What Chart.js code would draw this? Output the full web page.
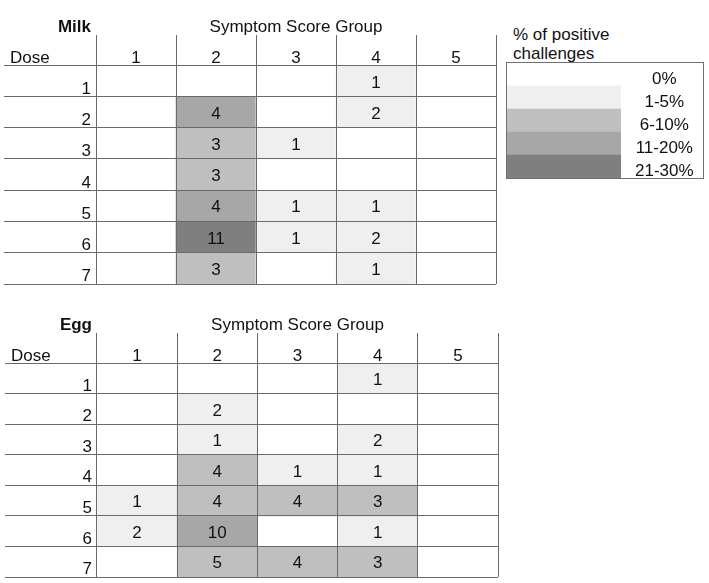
<!DOCTYPE html>
<html>
<head>
<meta charset="utf-8">
<script src="https://cdn.jsdelivr.net/npm/chart.js@4.4.1/dist/chart.umd.min.js"></script>
<style>
  body { margin: 0; background: #fff; width: 709px; height: 583px; position: relative; overflow: hidden; font-family: "Liberation Sans", Arial, sans-serif; }
  .box { position: absolute; }
  #legendTitle { position: absolute; left: 513px; top: 25px; font-size: 17px; line-height: 19px; color: #111; }
  #legendBox { position: absolute; left: 506px; top: 62px; width: 198px; height: 117px; border: 1px solid #707070; box-sizing: border-box; }
</style>
</head>
<body>
<div class="box" style="left:0;top:0;width:500px;height:290px"><canvas id="milk" width="500" height="290"></canvas></div>
<div class="box" style="left:0;top:299px;width:500px;height:284px"><canvas id="egg" width="500" height="284"></canvas></div>
<div id="legendTitle">% of positive<br>challenges</div>
<div id="legendBox"><canvas id="legend" width="196" height="115"></canvas></div>
<script>
const symptomGroups = ["1", "2", "3", "4", "5"]
const doses = ["1", "2", "3", "4", "5", "6", "7"]
const scoreTitle = "Symptom Score Group"
const doseTitle = "Dose"

// counts per dose (rows) and symptom score group (columns)
const milkCounts = [
  [null, null, null, 1, null],
  [null, 4, null, 2, null],
  [null, 3, 1, null, null],
  [null, 3, null, null, null],
  [null, 4, 1, 1, null],
  [null, 11, 1, 2, null],
  [null, 3, null, 1, null]
]
// shading class (index into legendLabels)
const milkLevels = [
  [0, 0, 0, 1, 0],
  [0, 3, 0, 1, 0],
  [0, 2, 1, 0, 0],
  [0, 2, 0, 0, 0],
  [0, 3, 1, 1, 0],
  [0, 4, 1, 1, 0],
  [0, 2, 0, 1, 0]
]

const eggCounts = [
  [null, null, null, 1, null],
  [null, 2, null, null, null],
  [null, 1, null, 2, null],
  [null, 4, 1, 1, null],
  [1, 4, 4, 3, null],
  [2, 10, null, 1, null],
  [null, 5, 4, 3, null]
]
const eggLevels = [
  [0, 0, 0, 1, 0],
  [0, 1, 0, 0, 0],
  [0, 1, 0, 1, 0],
  [0, 2, 1, 1, 0],
  [1, 2, 2, 2, 0],
  [1, 3, 0, 1, 0],
  [0, 2, 2, 2, 0]
]

const legendLabels = ["0%", "1-5%", "6-10%", "11-20%", "21-30%"]
const levelColors = ["#ffffff", "#efefef", "#bfbfbf", "#a7a7a7", "#7f7f7f"]

const fontFamily = '"Liberation Sans", Arial, sans-serif'
const textColor = "#111111"
const lineColor = "#6a6a6a"

Chart.defaults.font.family = fontFamily
Chart.defaults.font.size = 17
Chart.defaults.color = textColor

function makeTable(canvasId, name, counts, levels, padding, rowLabelOffset) {

  const tablePlugin = {
    id: "tablePlugin",
    afterDatasetsDraw(chart) {
      const ctx = chart.ctx
      ctx.save()
      ctx.fillStyle = textColor
      ctx.font = "17px " + fontFamily
      ctx.textAlign = "center"
      ctx.textBaseline = "middle"
      counts.forEach((row, i) => {
        const meta = chart.getDatasetMeta(i)
        row.forEach((v, j) => {
          if (v == null) return
          const bar = meta.data[j]
          ctx.fillText(String(v), bar.x, (bar.y + bar.base) / 2 + 2)
        })
      })
      ctx.restore()
    },
    afterDraw(chart) {
      const { ctx, chartArea: a } = chart
      ctx.save()
      ctx.fillStyle = textColor
      ctx.textBaseline = "middle"
      ctx.font = "bold 17px " + fontFamily
      ctx.textAlign = "right"
      ctx.fillText(name, a.left - 5, a.top - 38)
      ctx.font = "17px " + fontFamily
      ctx.textAlign = "center"
      ctx.fillText(scoreTitle, (a.left + a.right) / 2, a.top - 38)
      ctx.textAlign = "left"
      ctx.fillText(doseTitle, a.left - 86, a.top - 7)
      ctx.restore()
    }
  }

  return new Chart(canvasId, {
    type: "bar",
    data: {
      labels: symptomGroups,
      datasets: counts.map((row, i) => ({
        label: doses[i],
        data: row.map(() => 1),
        backgroundColor: levels[i].map(l => levelColors[l]),
        borderWidth: 0,
        barPercentage: 1,
        categoryPercentage: 1
      }))
    },
    options: {
      responsive: false,
      animation: false,
      layout: { padding: padding },
      plugins: {
        legend: { display: false },
        tooltip: { enabled: false }
      },
      scales: {
        x: {
          type: "category",
          position: "top",
          stacked: true,
          offset: true,
          grid: { offset: true, color: lineColor, tickLength: 30, z: 1 },
          border: { display: false },
          ticks: { padding: -33.5, autoSkip: false, maxRotation: 0, color: textColor },
          afterFit: s => { s.height = 30 }
        },
        y: {
          type: "linear",
          stacked: true,
          reverse: true,
          min: 0,
          max: doses.length,
          grid: { color: lineColor, tickLength: 92, z: 1 },
          border: { display: false },
          ticks: {
            stepSize: 1,
            autoSkip: false,
            padding: -87,
            labelOffset: rowLabelOffset,
            color: textColor,
            callback: v => doses[v] ?? ""
          },
          afterFit: s => { s.width = 92 }
        }
      }
    },
    plugins: [tablePlugin]
  })
}

makeTable("milk", "Milk", milkCounts, milkLevels, { left: 4, top: 35, right: 4, bottom: 6 }, 24)
makeTable("egg", "Egg", eggCounts, eggLevels, { left: 5, top: 34, right: 2, bottom: 6 }, 23)

new Chart("legend", {
  type: "bar",
  data: {
    labels: legendLabels,
    datasets: [{
      data: legendLabels.map(() => 1),
      backgroundColor: levelColors,
      borderWidth: 0,
      barPercentage: 1,
      categoryPercentage: 1
    }]
  },
  options: {
    indexAxis: "y",
    responsive: false,
    animation: false,
    layout: { padding: 0 },
    plugins: {
      legend: { display: false },
      tooltip: { enabled: false }
    },
    scales: {
      x: { display: false, min: 0, max: 1 },
      y: {
        position: "right",
        grid: { display: false },
        border: { display: false },
        ticks: { crossAlign: "center", padding: 6, labelOffset: 5, autoSkip: false, color: textColor },
        afterFit: s => { s.width = 82; s.paddingTop = 0; s.paddingBottom = 0 }
      }
    }
  }
})
</script>
</body>
</html>
